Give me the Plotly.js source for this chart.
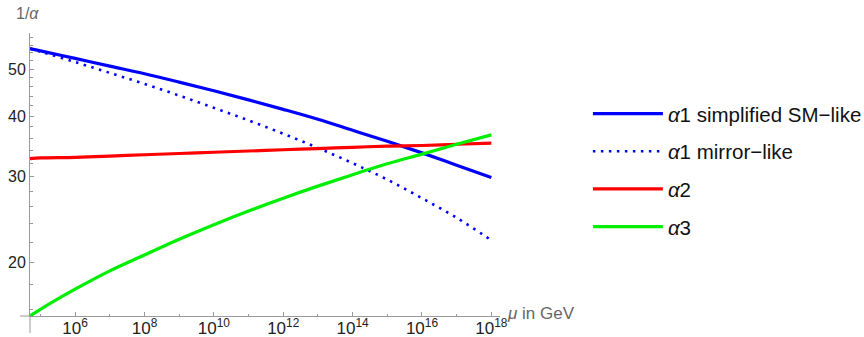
<!DOCTYPE html>
<html>
<head>
<meta charset="utf-8">
<script src="https://cdn.plot.ly/plotly-3.0.1.min.js"></script>
<style>html,body{margin:0;padding:0;background:#fff;}#chart{width:864px;height:337px;}</style>
</head>
<body>
<div id="chart"></div>
<script>
// energy scale mu in GeV
const mu = [5e4, 1e5, 1e6, 1e7, 1e8, 1e9, 1e10, 1e11, 1e12, 1e13, 1e14, 1e15, 1e16, 1e17, 1e18];
// inverse couplings
const alpha1SM     = [55.1, 54.5, 52.6, 50.7, 48.9, 47.0, 45.1, 43.2, 41.3, 39.4, 37.4, 35.5, 33.6, 31.7, 29.9];
const alpha1Mirror = [55.1, 54.3, 51.7, 49.1, 46.6, 44.1, 41.6, 39.2, 36.8, 34.4, 32.0, 29.6, 27.1, 24.7, 22.2];
const alpha2       = [32.7, 32.8, 32.9, 33.1, 33.3, 33.5, 33.7, 33.9, 34.1, 34.3, 34.5, 34.7, 34.8, 35.0, 35.2];
const alpha3       = [15.5, 16.0, 17.6, 19.2, 20.7, 22.3, 23.9, 25.5, 27.1, 28.7, 30.3, 31.9, 33.4, 35.0, 36.6];

const seriesNames = ["<i>α</i>1 simplified SM\u2212like", "<i>α</i>1 mirror\u2212like", "<i>α</i>2", "<i>α</i>3"];

const xTickVals = [1e6, 1e8, 1e10, 1e12, 1e14, 1e16, 1e18];
const xTickText = ['10<sup>6</sup>','10<sup>8</sup>','10<sup>10</sup>','10<sup>12</sup>','10<sup>14</sup>','10<sup>16</sup>','10<sup>18</sup>'];
const xMinorVals = [1e5, 1e7, 1e9, 1e11, 1e13, 1e15, 1e17];
const yTickVals = [20, 30, 40, 50];
const yTickText = ['20', '30', '40', '50'];
const yMinorVals = [16, 18, 22, 24, 26, 28, 32, 34, 36, 38, 42, 44, 46, 48, 52, 54, 56, 58];

const traces = [
  {x: mu, y: alpha1SM, name: seriesNames[0], legendgroup: 'a', mode: 'lines', line: {color: '#0000ff', width: 3.2, shape: 'spline'}},
  {x: mu, y: alpha1Mirror, name: seriesNames[1], legendgroup: 'b', mode: 'lines', line: {color: '#0000ff', width: 2.6, dash: '2.5px,5.5px', shape: 'spline'}},
  {x: mu, y: alpha2, name: seriesNames[2], legendgroup: 'c', mode: 'lines', line: {color: '#ff0000', width: 3.2, shape: 'spline'}},
  {x: mu, y: alpha3, name: seriesNames[3], legendgroup: 'd', mode: 'lines', line: {color: '#00ee00', width: 3.2, shape: 'spline'}}
];

const fam = 'Liberation Sans, Arial, sans-serif';

const layout = {
  width: 864, height: 337,
  margin: {l: 30, r: 364, t: 33, b: 21, autoexpand: false},
  paper_bgcolor: '#fff', plot_bgcolor: '#fff',
  showlegend: true,
  legend: {
    x: 1.187, xanchor: 'left', y: 0.785, yanchor: 'top',
    font: {family: fam, size: 20.5, color: '#111'},
    tracegroupgap: 8, itemwidth: 70, bgcolor: 'rgba(0,0,0,0)'
  },
  xaxis: {
    type: 'log', range: [4.699, 18.25],
    tickvals: xTickVals, ticktext: xTickText,
    ticks: 'inside', ticklen: 4, tickcolor: '#999', tickwidth: 1,
    minor: {tickvals: xMinorVals, ticks: 'inside', ticklen: 2.5, tickcolor: '#999'},
    showgrid: false, zeroline: false,
    showline: true, linecolor: '#999', linewidth: 1,
    tickfont: {family: fam, size: 17, color: '#222'},
    ticklabelstandoff: -3
  },
  yaxis: {
    type: 'log', range: [1.1903, 1.7733],
    tickvals: yTickVals, ticktext: yTickText,
    ticks: 'inside', ticklen: 4, tickcolor: '#999', tickwidth: 1,
    minor: {tickvals: yMinorVals, ticks: 'inside', ticklen: 2.5, tickcolor: '#999'},
    showgrid: false, zeroline: false,
    showline: true, linecolor: '#999', linewidth: 1,
    tickfont: {family: fam, size: 16, color: '#222'}
  },
  shapes: [
    {type: 'line', xref: 'paper', yref: 'paper', x0: -0.021, x1: 0, y0: 0, y1: 0, line: {color: '#999', width: 1}},
    {type: 'line', xref: 'paper', yref: 'paper', x0: 0, x1: 0, y0: 0, y1: -0.06, line: {color: '#999', width: 1}}
  ],
  annotations: [
    {text: '1/<i>α</i>', xref: 'paper', yref: 'paper', x: -0.005, y: 1.07, xanchor: 'center', yanchor: 'middle', showarrow: false,
     font: {family: fam, size: 16, color: '#666'}},
    {text: '<i>μ</i> in GeV', xref: 'paper', yref: 'paper', x: 1.01, y: 0.01, xanchor: 'left', yanchor: 'middle', showarrow: false,
     font: {family: fam, size: 17, color: '#666'}}
  ]
};

Plotly.newPlot('chart', traces, layout, {displayModeBar: false, staticPlot: true});
</script>
</body>
</html>
